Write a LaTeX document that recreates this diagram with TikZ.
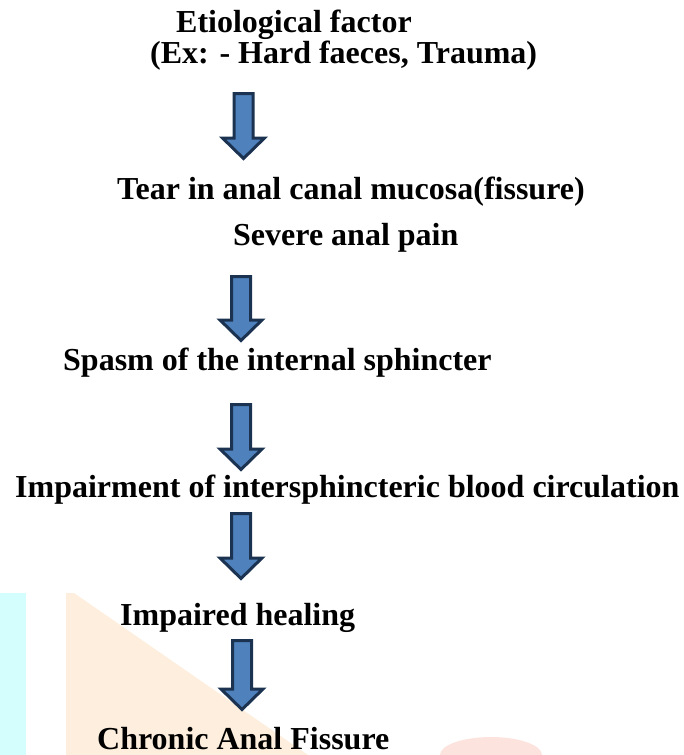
\documentclass[tikz,border=0pt]{standalone}
\usepackage{fontspec}
\setmainfont{Liberation Serif}
\definecolor{arrowfill}{HTML}{4F81BD}
\definecolor{arrowline}{HTML}{1B3350}
\definecolor{wmcyan}{HTML}{D4FDFD}
\definecolor{wmorange}{HTML}{FDEEDD}
\definecolor{wmpink}{HTML}{FDE3DE}
\newcommand\flowarrow[4]{%
  % #1 name, #2 x centre, #3 top, #4 tip
  \coordinate (#1) at (#2,#3);
  \draw[flowarr]
    ($(#1)+(-9.5,1.5)$) -- ($(#1)+(9.5,1.5)$) -- ($(#1)+(9.5,#4-#3-23)$)
    -- ($(#1)+(21,#4-#3-23)$) -- ($(#1)+(0,#4-#3-2.5)$)
    -- ($(#1)+(-21,#4-#3-23)$) -- ($(#1)+(-9.5,#4-#3-23)$) -- cycle;}
\usetikzlibrary{calc}
\begin{document}
\begin{tikzpicture}[x=1pt,y=-1pt,
  lbl/.style={anchor=base west,inner sep=0pt,font=\fontsize{32}{38}\selectfont\bfseries},
  flowarr/.style={draw=arrowline,fill=arrowfill,line width=3pt,line join=miter}]
\useasboundingbox (0,0) rectangle (683,755);
% faint background watermark
\fill[wmcyan] (0,593) rectangle (26,755);
\fill[wmorange] (66,593) -- (74,593) -- (308,755) -- (66,755) -- cycle;
\fill[wmpink] (440,755) arc[start angle=180,end angle=360,x radius=51,y radius=18] -- cycle;
% texts
\node[lbl] (t1) at (176,32) {Etiological factor};
\node[lbl] (t2) at (150,63) {(Ex: - Hard faeces, Trauma)};
\node[lbl] (t3) at (117,199) {Tear in anal canal mucosa(fissure)};
\node[lbl] (t4) at (233,245) {Severe anal pain};
\node[lbl] (t5) at (63,370) {Spasm of the internal sphincter};
\node[lbl] (t6) at (15,497) {Impairment of intersphincteric blood circulation};
\node[lbl] (t7) at (120,625) {Impaired healing};
\node[lbl] (t8) at (97,749) {Chronic Anal Fissure};
% arrows
\flowarrow{a1}{243.5}{92}{161}
\flowarrow{a2}{241}{275}{343}
\flowarrow{a3}{241}{403}{472}
\flowarrow{a4}{241}{512}{581}
\flowarrow{a5}{242}{639}{712}
\end{tikzpicture}
\end{document}
